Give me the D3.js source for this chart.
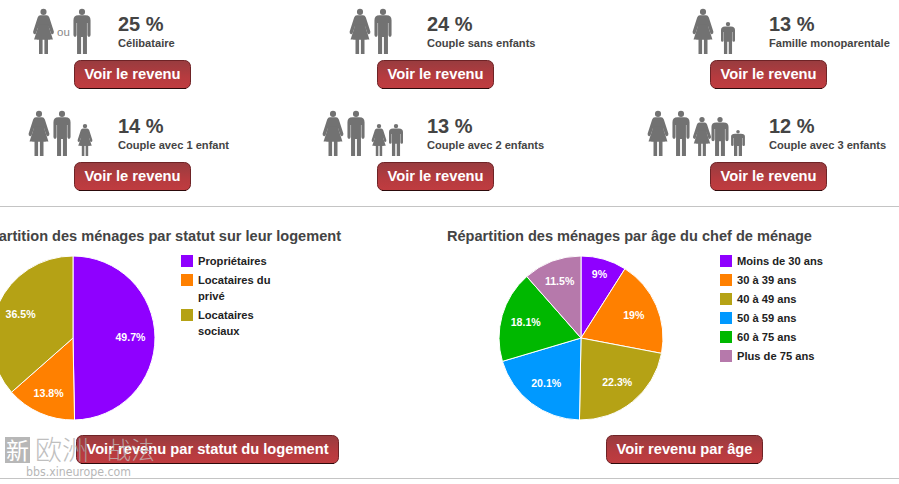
<!DOCTYPE html>
<html><head><meta charset="utf-8">
<script src="https://cdn.jsdelivr.net/npm/d3@7/dist/d3.min.js"></script>
<style>html,body{margin:0;padding:0;background:#fff;overflow:hidden}svg{display:block;font-family:"Liberation Sans",Arial,sans-serif}</style>
</head><body><svg id="c" width="899" height="484"></svg>
<script>
const shares = [25, 24, 13, 14, 13, 12];
const householdLabels = ["Célibataire","Couple sans enfants","Famille monoparentale","Couple avec 1 enfant","Couple avec 2 enfants","Couple avec 3 enfants"];
const tenureLabels = [["Propriétaires"],["Locataires du","privé"],["Locataires","sociaux"]];
const tenureValues = [49.7, 13.8, 36.5];
const ageLabels = ["Moins de 30 ans","30 à 39 ans","40 à 49 ans","50 à 59 ans","60 à 75 ans","Plus de 75 ans"];
const ageValues = [9, 19, 22.3, 20.1, 18.1, 11.5];
const pieColors = ["#8f00ff","#ff8000","#b5a215","#0099ff","#00b800","#b679ab"];
const titles = ["Répartition des ménages par statut sur leur logement","Répartition des ménages par âge du chef de ménage"];

const svg = d3.select("#c");
const defs = svg.append("defs");
const g = defs.append("linearGradient").attr("id","btn").attr("x1",0).attr("x2",0).attr("y1",0).attr("y2",1);
g.append("stop").attr("offset",0).attr("stop-color","#983c3f");
g.append("stop").attr("offset",.6).attr("stop-color","#b63b3f");
g.append("stop").attr("offset",1).attr("stop-color","#c03c40");

const manD = "M-8,14 L8,14 Q19,14 19,25 L19,58 Q19,62 15.5,62 Q12,62 12,58 L12,31 L11,31 L11,100 L2,100 L2,62 L-2,62 L-2,100 L-11,100 L-11,31 L-12,31 L-12,58 Q-12,62 -15.5,62 Q-19,62 -19,58 L-19,25 Q-19,14 -8,14 Z";
const womanD = "M-7,14 L7,14 Q11,14 13,19 L23,50 Q24,55 20,56 Q17,57 16,53 L11,38 L15,68 L10,68 L10,100 L2,100 L2,68 L-2,68 L-2,100 L-10,100 L-10,68 L-15,68 L-11,38 L-16,53 Q-17,57 -20,56 Q-24,55 -23,50 L-13,19 Q-11,14 -7,14 Z";
const womanSkirt = "M-10,34 L10,34 L21,68 L-21,68 Z";
function person(kind, cx, top, h, wx){
  const k=h/100;
  const s = svg.append("g").attr("transform",`translate(${cx},${top}) scale(${k*(wx||1)},${k})`).attr("fill","#727272");
  s.append("ellipse").attr("cx",0).attr("cy",6.5).attr("rx",6.8/(wx||1)).attr("ry",6.8);
  s.append("path").attr("d", kind==="w"?womanD:manD);
  if(kind==="w") s.append("path").attr("d",womanSkirt);
}
const rowTop = [9,111];
const icons = [
 [["w",43.5,0,45],["m",82,0,45]],
 [["w",360,0,45],["m",383,0,45]],
 [["w",703,0,45],["m",728,13,32,1.15]],
 [["w",39,0,45],["m",62,0,45],["w",85,13,32]],
 [["w",333,0,45],["m",356,0,45],["w",379,13,32],["m",396,13,32,1.15]],
 [["w",658,0,45],["m",681,0,45],["w",702,6,39],["m",720,6,39,1.15],["m",738,19,26,1.4]]
];
const textX = [118,427,769];
const btnX = [74,377,710];
function button(x,y,w,label){
  svg.append("rect").attr("x",x+.5).attr("y",y+.5).attr("width",w-1).attr("height",28).attr("rx",6)
    .attr("fill","url(#btn)").attr("stroke","#6e2326").attr("stroke-width",1);
  svg.append("line").attr("x1",x+5).attr("x2",x+w-5).attr("y1",y+28.5).attr("y2",y+28.5).attr("stroke","#2c0a0b");
  svg.append("text").attr("x",x+w/2).attr("y",y+19).attr("text-anchor","middle").attr("fill","#fff")
    .attr("font-size",14.7).attr("font-weight","bold").text(label);
}
shares.forEach((v,i)=>{
  const c=i%3,r=Math.floor(i/3);
  icons[i].forEach(p=>person(p[0],p[1],rowTop[r]+p[2],p[3],p[4]));
  svg.append("text").attr("x",textX[c]).attr("y",rowTop[r]+22).attr("font-size",20).attr("font-weight","bold").attr("fill","#444").text(v+" %");
  svg.append("text").attr("x",textX[c]).attr("y",rowTop[r]+38).attr("font-size",11.1).attr("font-weight","bold").attr("fill","#444").text(householdLabels[i]);
  button(btnX[c],rowTop[r]+51,117,"Voir le revenu");
});
svg.append("text").attr("x",63.5).attr("y",36).attr("text-anchor","middle").attr("font-size",11.5).attr("fill","#888").text("ou");

[207,479].forEach(y=>svg.append("line").attr("x1",0).attr("x2",899).attr("y1",y-.5).attr("y2",y-.5).attr("stroke","#c4c4c4"));

const labelR = v => v<10 ? 66 : v<15 ? 60.5 : 57.5;
function drawPie(cx,cy,vals){
  const pie=d3.pie().sort(null).value(d=>d)(vals);
  const arc=d3.arc().innerRadius(0).outerRadius(82);
  const gp=svg.append("g").attr("transform",`translate(${cx},${cy})`);
  gp.selectAll("path").data(pie).join("path").attr("d",arc).attr("fill",(d,i)=>pieColors[i]).attr("stroke","#fff").attr("stroke-width",1);
  gp.selectAll("text").data(pie).join("text")
    .attr("transform",d=>{const r=labelR(d.value);return `translate(${d3.arc().innerRadius(r).outerRadius(r).centroid(d)})`;})
    .attr("dy","0.35em").attr("text-anchor","middle").attr("font-size",10.6).attr("font-weight","bold").attr("fill","#fff").text(d=>d.value+"%");
}
drawPie(73,338,tenureValues);
drawPie(581,338,ageValues);

svg.append("text").attr("x",341).attr("y",241).attr("text-anchor","end").attr("font-size",14.57).attr("font-weight","bold").attr("fill","#444").text(titles[0]);
svg.append("text").attr("x",447).attr("y",241).attr("font-size",14.57).attr("font-weight","bold").attr("fill","#444").text(titles[1]);

const legCol = "#222";
let ly=[261,280,315];
tenureLabels.forEach((ls,i)=>{
  svg.append("rect").attr("x",181).attr("y",ly[i]-6).attr("width",12).attr("height",12).attr("fill",pieColors[i]);
  ls.forEach((t,j)=>svg.append("text").attr("x",198).attr("y",ly[i]+4+j*16).attr("font-size",11.15).attr("font-weight","bold").attr("fill",legCol).text(t));
});
ageLabels.forEach((t,i)=>{
  const y=261+19*i;
  svg.append("rect").attr("x",720).attr("y",y-6).attr("width",12).attr("height",12).attr("fill",pieColors[i]);
  svg.append("text").attr("x",737).attr("y",y+4).attr("font-size",11.15).attr("font-weight","bold").attr("fill",legCol).text(t);
});

button(76,435,263,"Voir revenu par statut du logement");
button(606,435,157,"Voir revenu par âge");

// watermark overlay
const wm=svg.append("g").attr("opacity",.75);
wm.append("rect").attr("x",5).attr("y",437).attr("width",25).attr("height",26).attr("fill","#a0a0a0");
wm.append("text").attr("x",17.5).attr("y",459).attr("text-anchor","middle").attr("font-size",23).attr("fill","#fff").attr("font-family","Noto Sans CJK SC").text("新");
wm.append("text").attr("x",35).attr("y",460).attr("font-size",27).attr("font-weight",300).attr("fill","#aaa").attr("font-family","Noto Sans CJK SC").text("欧洲");
wm.append("text").attr("x",107).attr("y",459).attr("font-size",24).attr("font-weight",300).attr("fill","#c0c0c0").attr("font-family","Noto Sans CJK SC").text("战法");
wm.append("text").attr("x",26).attr("y",476).attr("font-size",12).attr("fill","#a0a0a0").attr("font-family","DejaVu Sans").attr("textLength",105).attr("lengthAdjust","spacingAndGlyphs").text("bbs.xineurope.com");
</script></body></html>
